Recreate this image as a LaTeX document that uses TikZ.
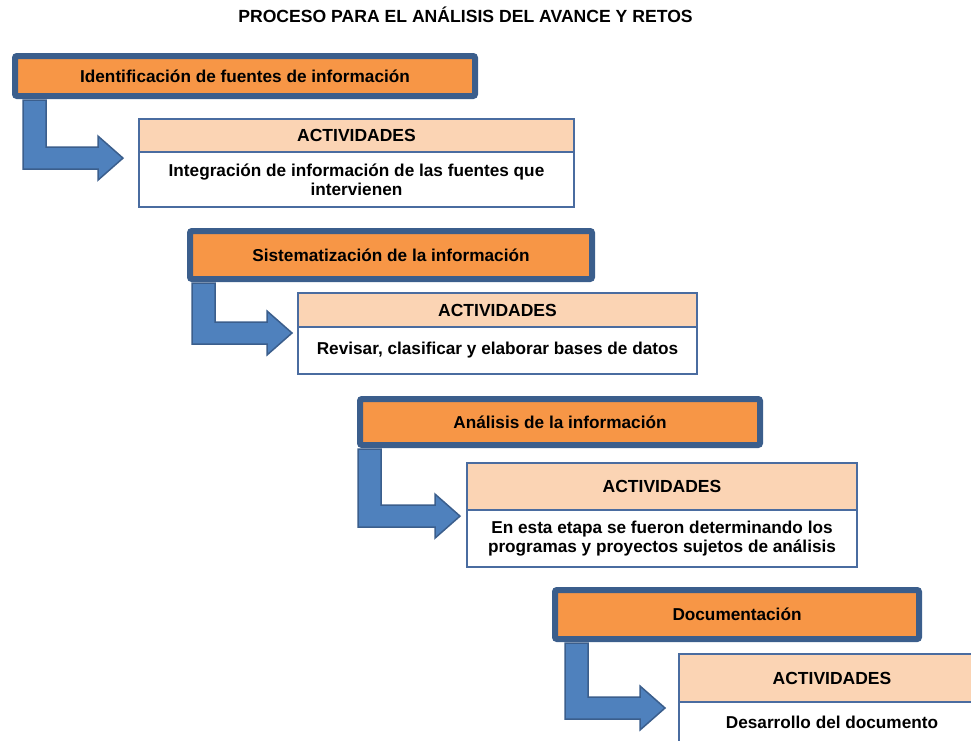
\documentclass[tikz,border=0pt]{standalone}
\usepackage{fontspec}
\setmainfont{Liberation Sans}
\usetikzlibrary{positioning,calc}

\definecolor{naranja}{HTML}{F79646}
\definecolor{durazno}{HTML}{FBD4B4}
\definecolor{azulosc}{HTML}{3B5E8C}
\definecolor{azul}{HTML}{4F81BD}
\definecolor{borde}{HTML}{4A6CA0}

\tikzset{
  etapa/.style={rectangle, rounded corners=2pt, fill=naranja, draw=azulosc, line width=6pt, text centered, font=\bfseries\fontsize{17.2}{19}\selectfont},
  acthead/.style={rectangle, fill=durazno, draw=borde, line width=2.5pt, outer sep=0pt, font=\bfseries\fontsize{17.5}{20}\selectfont},
  actbody/.style={rectangle, fill=white, draw=borde, line width=2.5pt, outer sep=0pt, align=center, font=\bfseries\fontsize{17.2}{19.5}\selectfont},
  flecha/.style={fill=azul, draw=azulosc, line width=1.5pt, line join=miter}
}

% bent block arrow: etapa node, activity header, shaft shift, tip shift
\newcommand{\bloqueflecha}[4]{%
  \coordinate (s) at ([shift={(#3,1)}]#1.south west);
  \coordinate (t) at ([shift={(#4,6)}]#2.south west);
  \draw[flecha] (s) -- ++(23,0) -- ($(s |- t)+(23,-11)$) -- ($(t)+(-25,-11)$)
    -- ($(t)+(-25,-22)$) -- (t) -- ($(t)+(-25,22)$) -- ($(t)+(-25,11)$)
    -- ($(s |- t)+(0,11)$) -- cycle;}

\begin{document}
\begin{tikzpicture}[x=1pt, y=-1pt]

  \clip (0,0) rectangle (971,740);

  \node (titulo) at (465.5,15) [font=\bfseries\fontsize{17.6}{20}\selectfont] {PROCESO PARA EL ANÁLISIS DEL AVANCE Y RETOS};

  % etapas
  \node (e1) at (245,76) [etapa, minimum width=460, minimum height=40] {Identificación de fuentes de información};
  \node (e2) at (391,255) [etapa, minimum width=402, minimum height=48] {Sistematización de la información};
  \node (e3) at (560,422) [etapa, minimum width=400, minimum height=46] {Análisis de la información};
  \node (e4) at (737,614.5) [etapa, minimum width=364, minimum height=49] {Documentación};

  % actividades
  \node (a1h) at (356.5,135.6) [acthead, minimum width=435, minimum height=33] {ACTIVIDADES};
  \node (a1b) [actbody, minimum width=435, minimum height=55, below=0pt of a1h] {Integración de información de las fuentes que\\intervienen};

  \node (a2h) at (497.5,310) [acthead, minimum width=399, minimum height=34] {ACTIVIDADES};
  \node (a2b) [actbody, minimum width=399, minimum height=47, below=0pt of a2h] {Revisar, clasificar y elaborar bases de datos};

  \node (a3h) at (662,486.6) [acthead, minimum width=390, minimum height=47] {ACTIVIDADES};
  \node (a3b) [actbody, minimum width=390, minimum height=57, below=0pt of a3h] {En esta etapa se fueron determinando los\\programas y proyectos sujetos de análisis};

  \node (a4h) at (832,678) [acthead, minimum width=306, minimum height=48] {ACTIVIDADES};
  \node (a4b) [actbody, minimum width=306, minimum height=40, below=0pt of a4h] {Desarrollo del documento};

  % flechas
  \bloqueflecha{e1}{a1h}{11}{-16}
  \bloqueflecha{e2}{a2h}{5}{-6}
  \bloqueflecha{e3}{a3h}{1}{-7}
  \bloqueflecha{e4}{a4h}{13}{-14}

\end{tikzpicture}
\end{document}
